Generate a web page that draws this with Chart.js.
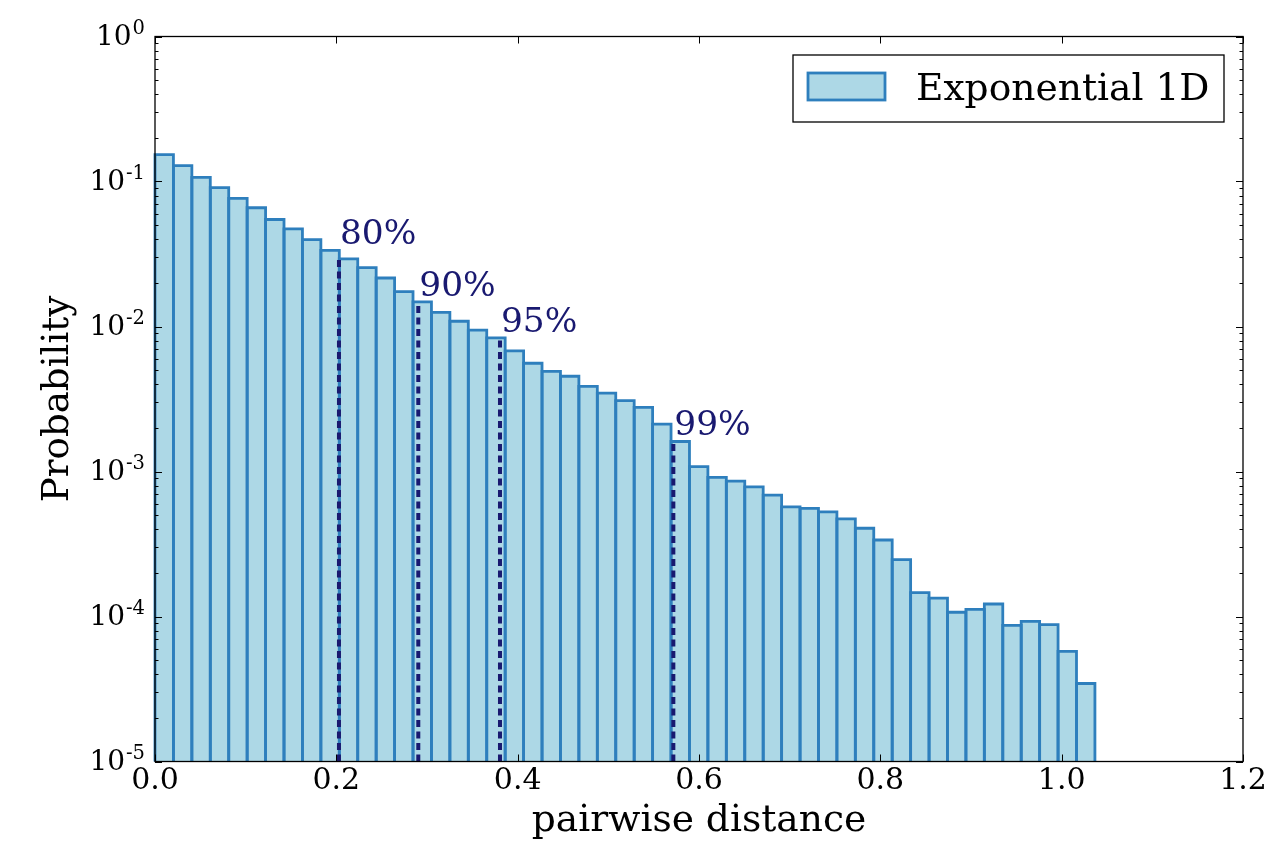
<!DOCTYPE html>
<html>
<head>
<meta charset="utf-8">
<title>pairwise distance</title>
<script src="https://cdn.jsdelivr.net/npm/chart.js@4.4.1/dist/chart.umd.min.js"></script>
<style>
  html, body { margin: 0; padding: 0; background: #fff; }
  #wrap { width: 1266px; height: 842px; }
</style>
</head>
<body>
<div id="wrap"><canvas id="chartHist" width="1266" height="842"></canvas></div>
<script>
// histogram of pairwise distances (51 bins, log probability)
var probs = [
    0.1531, 0.1285, 0.1067, 0.0906, 0.0765, 0.0659, 0.0547, 0.0472, 0.0397, 0.0335,
    0.0293, 0.0255, 0.0216, 0.0174, 0.0148, 0.0125, 0.01087, 0.00943, 0.00834, 0.00679,
    0.00558, 0.00491, 0.00454, 0.00387, 0.00347, 0.00308, 0.00277, 0.00212, 0.00161, 0.00108,
    0.000910, 0.000858, 0.000783, 0.000687, 0.000571, 0.000556, 0.000526, 0.000471, 0.000406, 0.000337,
    0.000247, 0.000146, 0.000134, 0.000107, 0.000112, 0.000122, 0.0000869, 0.0000926, 0.0000879, 0.0000575,
    0.0000345
];
var binWidth = 0.020327;

// percentile markers
var pctLabels = ['80%', '90%', '95%', '99%'];
var pctX      = [0.2029, 0.2904, 0.3805, 0.5717];
var pctTop    = [0.0293, 0.0148, 0.00834, 0.00161];
var pctTextY  = [0.0372, 0.01627, 0.00922, 0.00178];

var xTicks = [0.0, 0.2, 0.4, 0.6, 0.8, 1.0, 1.2];
var yExponents = [0, -1, -2, -3, -4, -5];

var seriesLabel = 'Exponential 1D';
var FILL = '#add8e6';
var EDGE = '#2e7fbd';
var NAVY = '#191970';
var SERIF = "'DejaVu Serif', serif";

var binPoints = probs.map(function (p, i) {
    return { x: (i + 0.5) * binWidth, y: p };
});

var histPlugin = {
    id: 'histDecor',
    afterDatasetsDraw: function (chart) {
        var ctx = chart.ctx;
        var xs = chart.scales.x, ys = chart.scales.y;
        var meta = chart.getDatasetMeta(0);

        // bar outlines, centred on the bin edges
        ctx.save();
        ctx.strokeStyle = EDGE;
        ctx.lineWidth = 2.8;
        meta.data.forEach(function (bar) {
            var p = bar.getProps(['x', 'y', 'base', 'width'], true);
            var l = p.x - p.width / 2, r = p.x + p.width / 2;
            ctx.beginPath();
            ctx.moveTo(l, p.base);
            ctx.lineTo(l, p.y);
            ctx.lineTo(r, p.y);
            ctx.lineTo(r, p.base);
            ctx.stroke();
        });
        ctx.restore();

        // dashed percentile lines + labels
        ctx.save();
        ctx.strokeStyle = NAVY;
        ctx.lineWidth = 4;
        ctx.setLineDash([7, 4.5]);
        pctX.forEach(function (v, i) {
            var px = xs.getPixelForValue(v);
            ctx.beginPath();
            ctx.moveTo(px, ys.bottom);
            ctx.lineTo(px, ys.getPixelForValue(pctTop[i]));
            ctx.stroke();
        });
        ctx.setLineDash([]);
        ctx.fillStyle = NAVY;
        ctx.font = '34.4px ' + SERIF;
        ctx.textAlign = 'left';
        ctx.textBaseline = 'alphabetic';
        pctLabels.forEach(function (t, i) {
            ctx.fillText(t, xs.getPixelForValue(pctX[i]) + 1, ys.getPixelForValue(pctTextY[i]));
        });
        ctx.restore();
    },
    afterDraw: function (chart) {
        var ctx = chart.ctx;
        var a = chart.chartArea;
        var xs = chart.scales.x, ys = chart.scales.y;

        ctx.save();
        ctx.strokeStyle = '#000';
        ctx.lineWidth = 1.3;
        ctx.strokeRect(a.left, a.top, a.right - a.left, a.bottom - a.top);

        // inward ticks on all four sides
        ctx.lineWidth = 1;
        ctx.beginPath();
        xTicks.forEach(function (v) {
            var px = Math.round(xs.getPixelForValue(v)) + 0.5;
            ctx.moveTo(px, a.bottom); ctx.lineTo(px, a.bottom - 7);
            ctx.moveTo(px, a.top); ctx.lineTo(px, a.top + 7);
        });
        yExponents.forEach(function (e) {
            var py = Math.round(ys.getPixelForValue(Math.pow(10, e))) + 0.5;
            ctx.moveTo(a.left, py); ctx.lineTo(a.left + 7, py);
            ctx.moveTo(a.right, py); ctx.lineTo(a.right - 7, py);
            if (e === 0) return;
            for (var k = 2; k <= 9; k++) {
                var pm = Math.round(ys.getPixelForValue(k * Math.pow(10, e))) + 0.5;
                ctx.moveTo(a.left, pm); ctx.lineTo(a.left + 3.5, pm);
                ctx.moveTo(a.right, pm); ctx.lineTo(a.right - 3.5, pm);
            }
        });
        ctx.stroke();

        // y tick labels as 10 with superscript exponent
        ctx.fillStyle = '#000';
        ctx.textBaseline = 'alphabetic';
        yExponents.forEach(function (e) {
            var py = ys.getPixelForValue(Math.pow(10, e));
            var sup = String(e);
            ctx.font = '19.5px ' + SERIF;
            var supW = ctx.measureText(sup).width;
            var right = a.left - 10;
            ctx.textAlign = 'left';
            ctx.fillText(sup, right - supW, py - 3);
            ctx.font = '28px ' + SERIF;
            ctx.textAlign = 'right';
            ctx.fillText('10', right - supW - 1, py + 8.7);
        });

        // legend box in the upper right corner
        var bx = a.right - 19, by = a.top + 18.5;
        var bw = 431, bh = 67;
        ctx.fillStyle = '#fff';
        ctx.fillRect(bx - bw, by, bw, bh);
        ctx.strokeStyle = '#000';
        ctx.lineWidth = 1.3;
        ctx.strokeRect(bx - bw, by, bw, bh);
        ctx.fillStyle = FILL;
        ctx.fillRect(bx - bw + 15, by + 18, 77, 27);
        ctx.strokeStyle = EDGE;
        ctx.lineWidth = 2.8;
        ctx.strokeRect(bx - bw + 15, by + 18, 77, 27);
        ctx.fillStyle = '#000';
        ctx.font = '37.6px ' + SERIF;
        ctx.textAlign = 'left';
        ctx.fillText(seriesLabel, bx - bw + 123, by + 44.5);
        ctx.restore();
    }
};

new Chart(document.getElementById('chartHist'), {
    type: 'bar',
    data: {
        datasets: [{
            label: seriesLabel,
            data: binPoints,
            backgroundColor: FILL,
            borderWidth: 0,
            barPercentage: 1,
            categoryPercentage: 1,
            inflateAmount: 0
        }]
    },
    options: {
        responsive: false,
        animation: false,
        devicePixelRatio: 1,
        layout: { padding: { left: 0, top: 36.5, right: 23, bottom: 0 } },
        plugins: {
            legend: { display: false },
            tooltip: { enabled: false }
        },
        scales: {
            x: {
                type: 'linear',
                min: 0,
                max: 1.2,
                offset: false,
                grid: { display: false, drawTicks: false, offset: false },
                border: { display: false },
                afterBuildTicks: function (scale) {
                    scale.ticks = xTicks.map(function (v) { return { value: v }; });
                },
                afterFit: function (scale) {
                    scale.height = 80.5;
                    scale.paddingLeft = 0;
                    scale.paddingRight = 0;
                },
                ticks: {
                    autoSkip: false,
                    maxRotation: 0,
                    padding: 5,
                    color: '#000',
                    font: { family: SERIF, size: 30, lineHeight: 1 },
                    callback: function (v) { return Number(v).toFixed(1); }
                },
                title: {
                    display: true,
                    text: 'pairwise distance',
                    color: '#000',
                    font: { family: SERIF, size: 37.6, lineHeight: 1 },
                    padding: { top: 0, bottom: 2.2 }
                }
            },
            y: {
                type: 'logarithmic',
                min: 1e-5,
                max: 1,
                grid: { display: false, drawTicks: false },
                border: { display: false },
                ticks: { display: false },
                afterFit: function (scale) { scale.width = 155; },
                title: {
                    display: true,
                    text: 'Probability',
                    color: '#000',
                    font: { family: SERIF, size: 37.2, lineHeight: 1 },
                    padding: { top: 39.7, bottom: 0 }
                }
            }
        }
    },
    plugins: [histPlugin]
});
</script>
</body>
</html>
